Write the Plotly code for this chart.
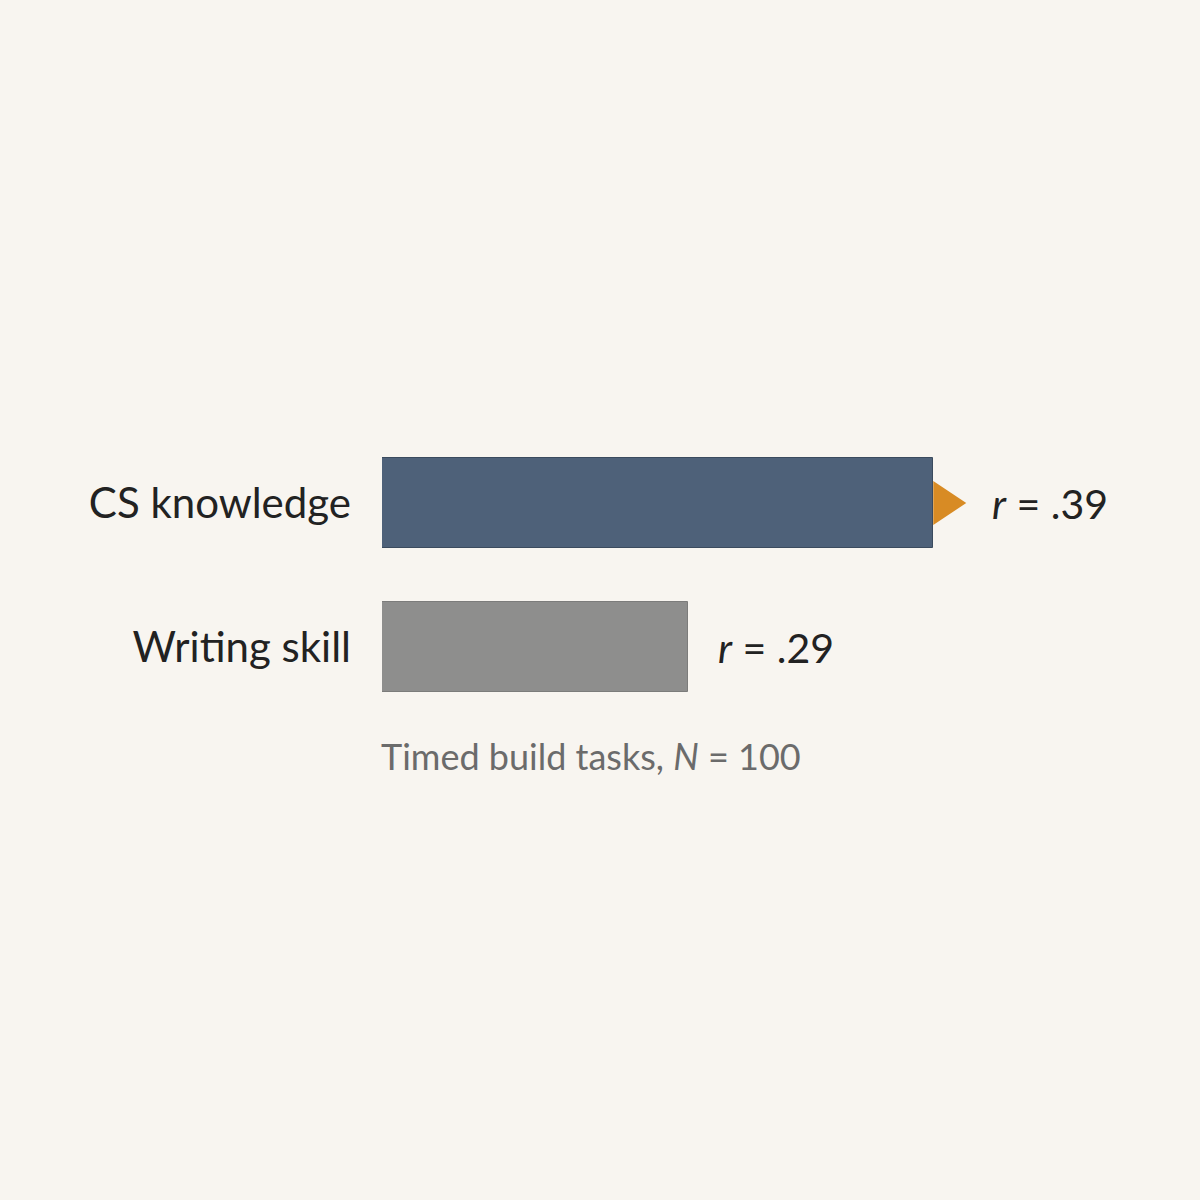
import plotly.graph_objects as go

categories = ["CS knowledge", "Writing skill"]
r_values = [0.39, 0.29]
r_labels = [".39", ".29"]
caption = "Timed build tasks, <i>N</i> = 100"

axis_min = 0.165  # bars are drawn on a truncated axis
bg = "#f8f5f0"
bar_colors = ["#4e6179", "#8e8e8d"]
bar_lines = ["#3b4b5e", "#7c7c7b"]
label_shift = [57, 28]

fig = go.Figure()
fig.add_trace(go.Bar(
    y=categories, x=[v - axis_min for v in r_values], base=axis_min,
    orientation="h", width=0.625,
    marker=dict(color=bar_colors, line=dict(color=bar_lines, width=1)),
    hoverinfo="skip"
))

# orange pointer on the leading bar
fig.add_shape(
    type="path", xref="x", yref="y",
    xsizemode="pixel", ysizemode="pixel",
    xanchor=r_values[0], yanchor=0,
    path="M0,-22 L33,0 L0,22 Z",
    fillcolor="#d88b24", line=dict(width=0)
)

for k in range(len(categories)):
    fig.add_annotation(
        x=r_values[k], y=categories[k], xref="x", yref="y",
        text="<i>r</i> = " + r_labels[k], showarrow=False,
        xanchor="left", xshift=label_shift[k],
        font=dict(family="Lato", size=41, color="#222222")
    )

fig.add_annotation(
    x=axis_min, y=1.76, xref="x", yref="y",
    text=caption, showarrow=False, xanchor="left", xshift=-3,
    font=dict(family="Lato", size=36, color="#6b6b6b")
)

fig.update_layout(
    width=1200, height=1200,
    margin=dict(l=382, r=0, t=0, b=0),
    paper_bgcolor=bg, plot_bgcolor=bg,
    showlegend=False, bargap=0,
    font=dict(family="Lato", color="#222222"),
)
fig.update_xaxes(range=[axis_min, axis_min + 818 / 2450], visible=False)
fig.update_yaxes(
    type="category", range=[1 + 553 / 144, -503 / 144],
    showgrid=False, zeroline=False, showline=False, ticks="",
    ticklabelstandoff=30,
    tickfont=dict(family="Lato", size=42, color="#222222")
)

fig.write_html("out.html", config={"displayModeBar": False},
               post_script="document.body.style.margin='0';")
